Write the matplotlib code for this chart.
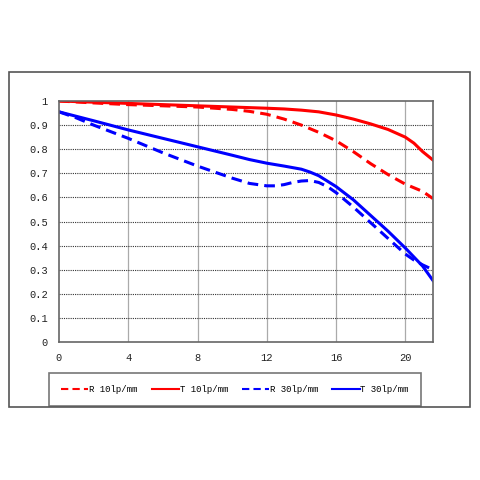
import numpy as np
import matplotlib
matplotlib.use("Agg")
import matplotlib.pyplot as plt
from matplotlib.patches import Rectangle

# image height (mm) and MTF readings
x_t10 = [0, 2, 4, 6, 8, 10, 12, 13, 14, 15, 16, 17, 18, 19, 20, 20.5, 21, 21.6]
t10 = [1.0, 0.995, 0.99, 0.985, 0.98, 0.975, 0.97, 0.967, 0.962, 0.955, 0.942, 0.925, 0.905, 0.882, 0.85, 0.825, 0.79, 0.755]

x_r10 = [0, 2, 4, 6, 8, 10, 11, 12, 13, 14, 15, 16, 17, 18, 19, 20, 21, 21.6]
r10 = [1.0, 0.992, 0.985, 0.98, 0.975, 0.965, 0.957, 0.945, 0.925, 0.9, 0.87, 0.835, 0.79, 0.74, 0.695, 0.655, 0.625, 0.595]

x_t30 = [0, 2, 4, 6, 8, 10, 11, 12, 13, 14, 14.5, 15, 16, 17, 18, 19, 20, 21, 21.6]
t30 = [0.955, 0.918, 0.88, 0.845, 0.81, 0.775, 0.757, 0.742, 0.73, 0.717, 0.705, 0.69, 0.645, 0.59, 0.525, 0.46, 0.39, 0.315, 0.255]

x_r30 = [0, 1, 2, 4, 6, 8, 10, 11, 12, 12.5, 13, 13.5, 14, 14.5, 15, 15.5, 16, 17, 18, 19, 20, 20.5, 21, 21.6]
r30 = [0.955, 0.93, 0.9, 0.845, 0.785, 0.73, 0.68, 0.658, 0.648, 0.648, 0.653, 0.662, 0.668, 0.67, 0.662, 0.645, 0.62, 0.56, 0.495, 0.43, 0.365, 0.34, 0.32, 0.3]

xticks = [0, 4, 8, 12, 16, 20]
yticks = [0, 0.1, 0.2, 0.3, 0.4, 0.5, 0.6, 0.7, 0.8, 0.9, 1]
ytick_labels = ["0", "0.1", "0.2", "0.3", "0.4", "0.5", "0.6", "0.7", "0.8", "0.9", "1"]

plt.rcParams['font.family'] = ['Liberation Mono', 'DejaVu Sans Mono']

fig = plt.figure(figsize=(4.8, 4.8), dpi=100)
fig.patch.set_facecolor("white")

# outer frame
fig.patches.append(Rectangle((9 / 480, 73 / 480), 461 / 480, 335 / 480,
                             transform=fig.transFigure, fill=False,
                             edgecolor="#555555", linewidth=1.2))

ax = fig.add_axes([59 / 480, 138 / 480, 374 / 480, 241 / 480])
ax.plot(x_r10, r10, color="#ff0000", lw=2.2, ls=(0, (3.5, 2)), label="R 10lp/mm")
ax.plot(x_t10, t10, color="#ff0000", lw=2.2, label="T 10lp/mm")
ax.plot(x_r30, r30, color="#0000ff", lw=2.2, ls=(0, (3.5, 2)), label="R 30lp/mm")
ax.plot(x_t30, t30, color="#0000ff", lw=2.2, label="T 30lp/mm")

ax.set_xlim(0, 21.6)
ax.set_ylim(0, 1)
ax.set_xticks(xticks)
ax.set_yticks(yticks)
ax.set_yticklabels(ytick_labels)
ax.tick_params(length=0, labelsize=7.5, pad=8, colors="#222222")
for xv in xticks[1:]:
    ax.axvline(xv, color="#aaaaaa", lw=0.9, zorder=0)
for yv in yticks[1:-1]:
    ax.axhline(yv, color="#333333", lw=0.8, ls=(0, (1, 1)), zorder=0)
for s in ax.spines.values():
    s.set_color("#666666")
    s.set_linewidth(1.2)

leg = fig.legend(*ax.get_legend_handles_labels(), loc="center", ncol=4,
                 bbox_to_anchor=(49 / 480, 74 / 480, 372 / 480, 33 / 480),
                 mode="expand", fontsize=6.5, handlelength=3.0, handletextpad=0.1,
                 frameon=True, fancybox=False, borderaxespad=0, borderpad=1.35)
leg.get_frame().set_edgecolor("#555555")
leg.get_frame().set_linewidth(1.2)
for h in leg.get_lines():
    h.set_linewidth(1.5)

fig.savefig("out.png", dpi=100)
